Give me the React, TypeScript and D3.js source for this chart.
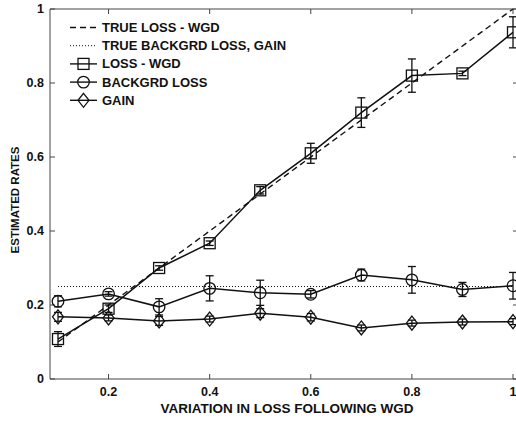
import React from "react";
import * as d3 from "d3";

// Variation levels along the x axis
const levels = [0.1, 0.2, 0.3, 0.4, 0.5, 0.6, 0.7, 0.8, 0.9, 1.0];

// Estimated loss rate (with std error)
const lossWgd = [0.108, 0.19, 0.3, 0.367, 0.51, 0.61, 0.72, 0.82, 0.826, 0.937];
const lossWgdErr = [0.02, 0.01, 0.006, 0.006, 0.01, 0.027, 0.04, 0.045, 0.006, 0.042];

// Estimated background loss
const backLoss = [0.21, 0.23, 0.195, 0.245, 0.233, 0.229, 0.281, 0.268, 0.242, 0.252];
const backLossErr = [0.015, 0.006, 0.022, 0.034, 0.034, 0.01, 0.016, 0.036, 0.019, 0.036];

// Estimated gain
const gain = [0.168, 0.165, 0.157, 0.162, 0.178, 0.167, 0.138, 0.151, 0.154, 0.155];
const gainErr = [0.012, 0.008, 0.012, 0.008, 0.012, 0.01, 0.008, 0.008, 0.008, 0.008];

// True values
const trueLoss = [0.1, 1.0];
const trueLossX = [0.1, 1.0];
const trueBack = [0.25, 0.25];
const trueBackX = [0.1, 1.0];

const xTicks = [0.2, 0.4, 0.6, 0.8, 1];
const yTicks = [0, 0.2, 0.4, 0.6, 0.8, 1];

const legendLabels = [
  "TRUE LOSS - WGD",
  "TRUE BACKGRD LOSS, GAIN",
  "LOSS - WGD",
  "BACKGRD LOSS",
  "GAIN",
];

const W = 516;
const H = 421;
const left = 50;
const right = 518;
const top = 9;
const bottom = 379;

const x = d3.scaleLinear().domain([0.1, 1]).range([58, 513]);
const y = d3.scaleLinear().domain([0, 1]).range([bottom, top]);

const font = "'Liberation Sans', Arial, Helvetica, sans-serif";
const ink = "#111";

type Marker = "square" | "circle" | "diamond";

function markerPath(kind: Marker, cx: number, cy: number): JSX.Element {
  if (kind === "square") {
    return <rect x={cx - 5.5} y={cy - 5.5} width={11} height={11} fill="none" stroke={ink} strokeWidth={1.3} />;
  }
  if (kind === "circle") {
    return <circle cx={cx} cy={cy} r={5.8} fill="none" stroke={ink} strokeWidth={1.3} />;
  }
  const d = `M${cx},${cy - 7}L${cx + 5.5},${cy}L${cx},${cy + 7}L${cx - 5.5},${cy}Z`;
  return <path d={d} fill="none" stroke={ink} strokeWidth={1.3} />;
}

function Series({ vals, errs, kind }: { vals: number[]; errs: number[]; kind: Marker }) {
  const line = d3
    .line<number>()
    .x((_, i) => x(levels[i]))
    .y((v) => y(v));
  return (
    <g>
      <path d={line(vals) || ""} fill="none" stroke={ink} strokeWidth={1.5} />
      {vals.map((v, i) => {
        const cx = x(levels[i]);
        const y1 = y(v + errs[i]);
        const y2 = y(v - errs[i]);
        return (
          <g key={i}>
            <line x1={cx} x2={cx} y1={y1} y2={y2} stroke={ink} strokeWidth={1.3} />
            <line x1={cx - 4} x2={cx + 4} y1={y1} y2={y1} stroke={ink} strokeWidth={1.3} />
            <line x1={cx - 4} x2={cx + 4} y1={y2} y2={y2} stroke={ink} strokeWidth={1.3} />
            {markerPath(kind, cx, y(v))}
          </g>
        );
      })}
    </g>
  );
}

export default function App() {
  const trueLine = d3
    .line<number>()
    .x((_, i) => x(trueLossX[i]))
    .y((v) => y(v));
  const backLine = d3
    .line<number>()
    .x((_, i) => x(trueBackX[i]))
    .y((v) => y(v));

  const legendY = (i: number) => 27.5 + 18.2 * i;
  const legendKinds: (Marker | null)[] = [null, null, "square", "circle", "diamond"];
  const legendDash = ["6,4", "1,2", "", "", ""];

  return (
    <svg
      width={W}
      height={H}
      style={{ position: "fixed", left: 0, top: 0, background: "#fff" }}
      fontFamily={font}
      fontWeight="bold"
    >
      <rect x={0} y={0} width={W} height={H} fill="#fff" />

      {/* axes box */}
      <line x1={left} x2={right} y1={top} y2={top} stroke="#444" strokeWidth={1} />
      <line x1={left} x2={right} y1={bottom} y2={bottom} stroke="#444" strokeWidth={1} />
      <line x1={left} x2={left} y1={top} y2={bottom} stroke="#444" strokeWidth={1} />
      <line x1={right} x2={right} y1={top} y2={bottom} stroke="#444" strokeWidth={1} />

      {/* ticks */}
      {xTicks.map((t) => (
        <g key={"x" + t}>
          <line x1={x(t)} x2={x(t)} y1={bottom} y2={bottom - 5} stroke="#444" />
          <line x1={x(t)} x2={x(t)} y1={top} y2={top + 5} stroke="#444" />
          <text x={x(t)} y={396} textAnchor="middle" fontSize={12.5} fill={ink}>
            {d3.format("~g")(t)}
          </text>
        </g>
      ))}
      {yTicks.map((t) => (
        <g key={"y" + t}>
          <line x1={left} x2={left + 5} y1={y(t)} y2={y(t)} stroke="#444" />
          <line x1={right} x2={right - 5} y1={y(t)} y2={y(t)} stroke="#444" />
          <text x={44} y={y(t) + 4} textAnchor="end" fontSize={12.5} fill={ink}>
            {d3.format("~g")(t)}
          </text>
        </g>
      ))}

      <text x={287} y={413} textAnchor="middle" fontSize={13.5} fill={ink}>
        VARIATION IN LOSS FOLLOWING WGD
      </text>
      <text
        transform={`translate(19,${200}) rotate(-90)`}
        textAnchor="middle"
        fontSize={11.5}
        fill={ink}
      >
        ESTIMATED RATES
      </text>

      {/* true values */}
      <path d={trueLine(trueLoss) || ""} fill="none" stroke={ink} strokeWidth={1.4} strokeDasharray="6,4" />
      <path d={backLine(trueBack) || ""} fill="none" stroke={ink} strokeWidth={1} strokeDasharray="1,2" />

      {/* estimates */}
      <Series vals={lossWgd} errs={lossWgdErr} kind="square" />
      <Series vals={backLoss} errs={backLossErr} kind="circle" />
      <Series vals={gain} errs={gainErr} kind="diamond" />

      {/* legend */}
      {legendLabels.map((lab, i) => {
        const ly = legendY(i);
        const k = legendKinds[i];
        return (
          <g key={lab}>
            <line
              x1={70}
              x2={97}
              y1={ly}
              y2={ly}
              stroke={ink}
              strokeWidth={i === 1 ? 1 : 1.4}
              strokeDasharray={legendDash[i] || undefined}
            />
            {k && markerPath(k, 83.5, ly)}
            <text x={102} y={ly + 4.5} fontSize={13} fill={ink}>
              {lab}
            </text>
          </g>
        );
      })}
    </svg>
  );
}
